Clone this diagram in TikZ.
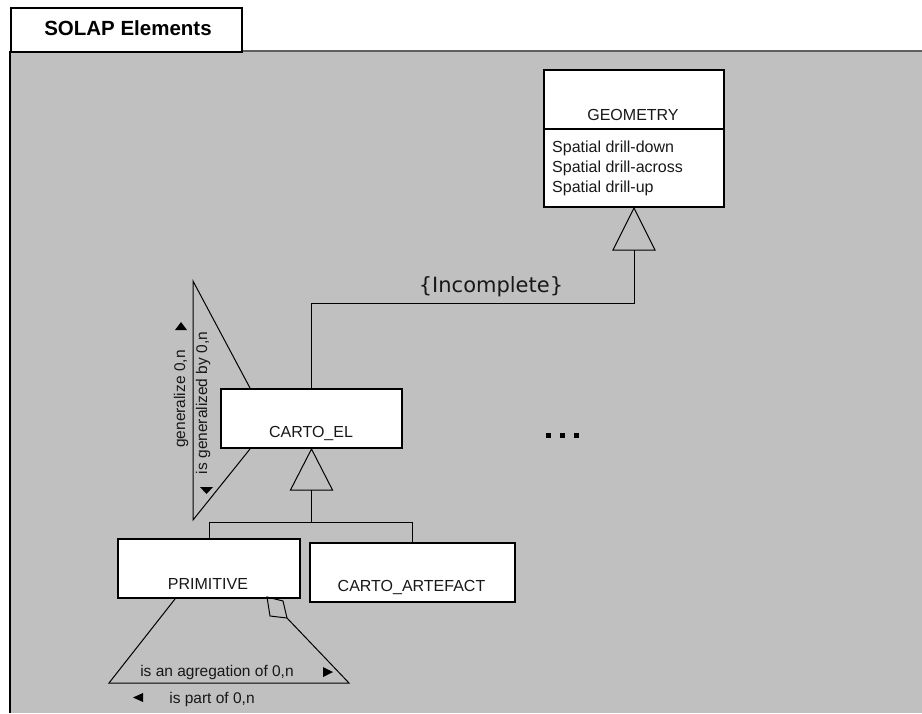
\documentclass[tikz,border=0pt]{standalone}
\usepackage{fontspec}
\setmainfont{Liberation Sans}
\newfontfamily\dejavu{DejaVu Sans}
\usetikzlibrary{calc}
\definecolor{panel}{RGB}{192,192,192}
\definecolor{rulegray}{RGB}{96,96,96}
\definecolor{ink}{RGB}{24,24,24}
\begin{document}
\begin{tikzpicture}[x=1pt,y=-1pt,
  cls/.style={draw, line width=2pt, fill=white, inner sep=0pt, anchor=north west},
  lbl/.style={font=\fontsize{16}{20}\selectfont, text=ink, inner sep=0pt, anchor=base},
  small/.style={font=\fontsize{15.5}{18}\selectfont, text=ink, inner sep=0pt, anchor=base},
  conn/.style={line width=1pt},
  tip/.style={fill=black}
]
\useasboundingbox (0,0) rectangle (922,713);
\fill[panel] (10,51) rectangle (922,713);
\draw[rulegray, line width=2pt] (241,51) -- (922,51);
\draw[line width=1.5pt] (10,51) -- (10,713);
\node[draw, line width=1.5pt, fill=white, anchor=north west, minimum width=231, minimum height=44, inner sep=0pt] (tab) at (10,7) {};
\node[font=\bfseries\fontsize{20.5}{23}\selectfont, anchor=base, inner sep=0pt] (title) at (128,35) {SOLAP Elements};

% GEOMETRY
\node[cls, minimum width=180, minimum height=137] (geo) at (543,69) {};
\coordinate (gdiv) at (0,129);
\draw[line width=2pt] (geo.west |- gdiv) -- (geo.east |- gdiv);
\node[lbl] (geoname) at (633,120) {GEOMETRY};
\node[lbl, anchor=base west] (op1) at (552,152) {Spatial drill-down};
\node[lbl, anchor=base west] (op2) at (552,172) {Spatial drill-across};
\node[lbl, anchor=base west] (op3) at (552,192) {Spatial drill-up};

% CARTO_EL
\node[cls, minimum width=181, minimum height=59] (carto) at (220,388) {};
\node[lbl] (cartoname) at (311,437) {CARTO\_EL};

% PRIMITIVE
\node[cls, minimum width=182, minimum height=59] (prim) at (117,538) {};
\node[lbl] (primname) at (208,589) {PRIMITIVE};

% CARTO_ARTEFACT
\node[cls, minimum width=205, minimum height=59] (art) at (309,542) {};
\node[lbl] (artname) at (411.5,591) {CARTO\_ARTEFACT};

% generalization GEOMETRY
\draw[conn] (geo.south) -- ++(-21,42) -- ++(42,0) -- cycle;
\coordinate (tgbase) at ($(geo.south)+(0,42)$);
\coordinate (jn) at (311,303);
\draw[conn] (tgbase) -- (tgbase |- jn) -- (carto.north |- jn) -- (carto.north);
\node[font=\dejavu\fontsize{21}{24}\selectfont, text=ink, anchor=base, inner sep=0pt] (incomplete) at (491,292) {\{Incomplete\}};

% generalization CARTO_EL
\draw[conn] (carto.south) -- ++(-21,41) -- ++(42,0) -- cycle;
\coordinate (tcbase) at ($(carto.south)+(0,41)$);
\coordinate (jn2) at (0,522);
\draw[conn] (tcbase) -- (tcbase |- jn2);
\draw[conn] (prim.north) -- (prim.north |- jn2) -- (art.north |- jn2) -- (art.north);

% self association on CARTO_EL
\coordinate (sa1) at (193,281);
\coordinate (sa2) at (193,520);
\draw[conn] ($(carto.north west)+(30,0)$) -- (sa1) -- (sa2) -- ($(carto.south west)+(30,0)$);
\node[small, rotate=90] (gby) at (207,403) {is generalized by 0,n};
\node[small, rotate=90] (gen) at (185,399) {generalize 0,n};
\fill[tip] (175,330) -- (181,322) -- (187,330) -- cycle;
\fill[tip] (200,487) -- (213,487) -- (206.5,494) -- cycle;

% aggregation on PRIMITIVE
\coordinate (ag1) at (109,683);
\coordinate (ag2) at (349,683);
\coordinate (dmb) at (287,618);
\draw[conn] ($(prim.south west)+(58,0)$) -- (ag1) -- (ag2) -- (dmb);
\draw[conn] (267,597) -- (283,601) -- (dmb) -- (270,616) -- cycle;
\node[small] (agg) at (217,676) {is an agregation of 0,n};
\fill[tip] (323,667) -- (333,672) -- (323,677) -- cycle;
\node[small] (part) at (212,703) {is part of 0,n};
\fill[tip] (143,693) -- (133,697.5) -- (143,702) -- cycle;

% ellipsis
\fill (545.5,432.5) rectangle ++(5,5);
\fill (560,432.5) rectangle ++(5,5);
\fill (573.5,432.5) rectangle ++(5,5);
\end{tikzpicture}
\end{document}
